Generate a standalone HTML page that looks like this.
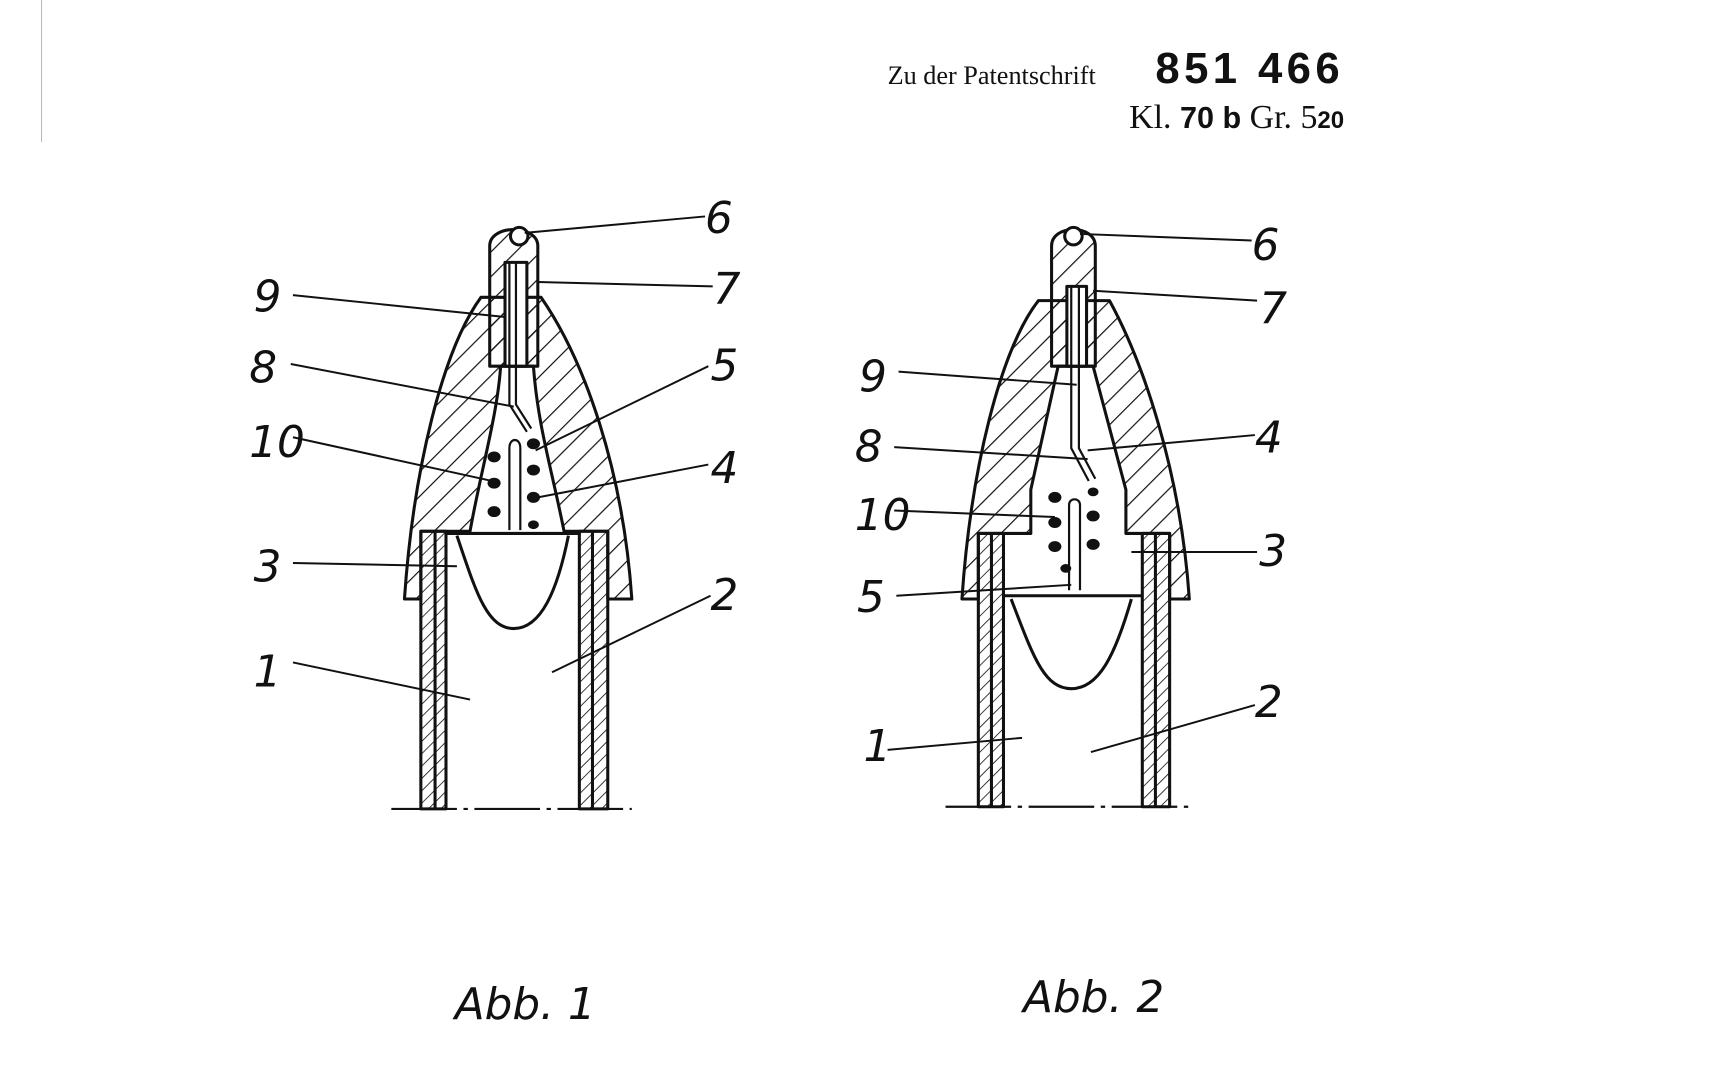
<!DOCTYPE html>
<html><head><style>
html,body{margin:0;padding:0;background:#fff;}
svg{display:block}
text{fill:#111}
</style></head><body>
<svg width="1714" height="1080" viewBox="0 0 1568 988" preserveAspectRatio="none" xmlns="http://www.w3.org/2000/svg">
<defs>
<pattern id="h" width="16" height="16" patternUnits="userSpaceOnUse" patternTransform="rotate(45)">
<line x1="0" y1="0" x2="0" y2="16" stroke="#111" stroke-width="2.2"/>
</pattern>
<pattern id="hs" width="8" height="8" patternUnits="userSpaceOnUse" patternTransform="rotate(45)">
<line x1="0" y1="0" x2="0" y2="8" stroke="#111" stroke-width="1.5"/>
</pattern>
</defs>
<rect width="1568" height="988" fill="#fff"/>
<line x1="38" y1="0" x2="38" y2="130" stroke="#bbb" stroke-width="1"/>

<text x="812" y="77" font-family="Liberation Serif, serif" font-size="24">Zu der Patentschrift</text>
<text x="1057" y="76" font-family="Liberation Sans, sans-serif" font-size="40" font-weight="bold" letter-spacing="4">851 466</text>
<text x="1033" y="117" font-family="Liberation Serif, serif" font-size="31">Kl. <tspan font-weight="bold" font-family="Liberation Sans, sans-serif" font-size="28">70 b</tspan> Gr. 5<tspan font-size="22" font-weight="bold" font-family="Liberation Sans, sans-serif">20</tspan></text>

<g stroke="#111" stroke-width="2.8" fill="none" stroke-linejoin="round">
<!-- FIG 1 -->
<path fill="url(#h)" fill-rule="evenodd" d="M370,548 C378,430 405,320 440,272 L495,272 C535,330 570,430 578,548 L556,548 L556,486 L530,486 L516,486 C505,430 492,390 488,335 L458,335 C455,380 440,430 430,486 L408,486 L385,486 L385,548 Z"/>
<path fill="url(#h)" d="M448,335 L448,225 C448,205 492,205 492,225 L492,335 Z"/>
<path fill="#fff" d="M462,335 L462,240 L482,240 L482,335 Z"/>
<circle cx="475" cy="216" r="8" fill="#fff"/>
<path d="M466,240 L466,340 L466,370 L482,395 M472,240 L472,370 L486,392" stroke-width="2"/>
<path d="M466,485 L466,410 C466,400 476,400 476,410 L476,485" fill="#fff" stroke-width="2"/>
<g fill="#111" stroke="none">
<ellipse cx="452" cy="418" rx="6" ry="5"/><ellipse cx="488" cy="406" rx="6" ry="5"/>
<ellipse cx="452" cy="442" rx="6" ry="5"/><ellipse cx="488" cy="430" rx="6" ry="5"/>
<ellipse cx="452" cy="468" rx="6" ry="5"/><ellipse cx="488" cy="455" rx="6" ry="5"/>
<ellipse cx="488" cy="480" rx="5" ry="4"/>
</g>
<rect x="385" y="486" width="23" height="254" fill="url(#hs)"/>
<rect x="530" y="486" width="26" height="254" fill="url(#hs)"/>
<line x1="398" y1="486" x2="398" y2="740"/><line x1="542" y1="486" x2="542" y2="740"/>
<path d="M408,488 L530,488 M418,490 C435,540 445,575 470,575 C495,575 510,540 520,490"/>
<line x1="358" y1="740" x2="578" y2="740" stroke-width="2" stroke-dasharray="60,6,4,6"/>

<!-- FIG 2 -->
<path fill="url(#h)" fill-rule="evenodd" d="M880,548 C888,430 915,320 950,275 L1015,275 C1045,330 1080,430 1088,548 L1070,548 L1070,488 L1045,488 L1030,488 L1030,448 L1000,335 L968,335 L943,448 L943,488 L918,488 L895,488 L895,548 Z"/>
<path fill="url(#h)" d="M962,335 L962,225 C962,205 1002,205 1002,225 L1002,335 Z"/>
<path fill="#fff" d="M976,335 L976,262 L994,262 L994,335 Z"/>
<circle cx="982" cy="216" r="8" fill="#fff"/>
<path d="M980,262 L980,410 L996,440 M987,262 L987,410 L1002,438" stroke-width="2"/>
<path d="M978,540 L978,462 C978,455 988,455 988,462 L988,540" fill="#fff" stroke-width="2"/>
<g fill="#111" stroke="none">
<ellipse cx="965" cy="455" rx="6" ry="5"/><ellipse cx="1000" cy="450" rx="5" ry="4"/>
<ellipse cx="965" cy="478" rx="6" ry="5"/><ellipse cx="1000" cy="472" rx="6" ry="5"/>
<ellipse cx="965" cy="500" rx="6" ry="5"/><ellipse cx="1000" cy="498" rx="6" ry="5"/>
<ellipse cx="975" cy="520" rx="5" ry="4"/>
</g>
<rect x="895" y="488" width="23" height="250" fill="url(#hs)"/>
<rect x="1045" y="488" width="25" height="250" fill="url(#hs)"/>
<line x1="907" y1="488" x2="907" y2="738"/><line x1="1057" y1="488" x2="1057" y2="738"/>
<path d="M918,545 L1045,545 M925,548 C945,600 955,630 980,630 C1005,630 1020,600 1035,548"/>
<line x1="865" y1="738" x2="1088" y2="738" stroke-width="2" stroke-dasharray="60,6,4,6"/>
</g>

<!-- leaders -->
<g stroke="#111" stroke-width="1.8">
<line x1="480" y1="213" x2="645" y2="198"/>
<line x1="492" y1="258" x2="652" y2="262"/>
<line x1="268" y1="270" x2="462" y2="290"/>
<line x1="266" y1="333" x2="470" y2="372"/>
<line x1="490" y1="412" x2="648" y2="335"/>
<line x1="268" y1="400" x2="450" y2="440"/>
<line x1="492" y1="455" x2="648" y2="425"/>
<line x1="268" y1="515" x2="418" y2="518"/>
<line x1="505" y1="615" x2="650" y2="545"/>
<line x1="268" y1="606" x2="430" y2="640"/>

<line x1="988" y1="214" x2="1145" y2="220"/>
<line x1="1000" y1="266" x2="1150" y2="275"/>
<line x1="822" y1="340" x2="985" y2="352"/>
<line x1="995" y1="412" x2="1148" y2="398"/>
<line x1="818" y1="409" x2="995" y2="420"/>
<line x1="818" y1="467" x2="965" y2="473"/>
<line x1="1035" y1="505" x2="1150" y2="505"/>
<line x1="820" y1="545" x2="980" y2="535"/>
<line x1="998" y1="688" x2="1148" y2="645"/>
<line x1="812" y1="686" x2="935" y2="675"/>
</g>

<g font-family="DejaVu Sans, sans-serif" font-style="italic" font-size="40">
<text x="645" y="213">6</text><text x="652" y="278">7</text>
<text x="232" y="285">9</text><text x="228" y="350">8</text>
<text x="650" y="348">5</text><text x="228" y="418">10</text>
<text x="650" y="442">4</text><text x="232" y="532">3</text>
<text x="650" y="558">2</text><text x="232" y="628">1</text>

<text x="1145" y="238">6</text><text x="1152" y="296">7</text>
<text x="786" y="358">9</text><text x="1148" y="414">4</text>
<text x="782" y="422">8</text><text x="782" y="485">10</text>
<text x="1152" y="518">3</text><text x="784" y="560">5</text>
<text x="1148" y="656">2</text><text x="790" y="696">1</text>

<text x="416" y="932">Abb. 1</text>
<text x="936" y="926">Abb. 2</text>
</g>
</svg>
</body></html>
